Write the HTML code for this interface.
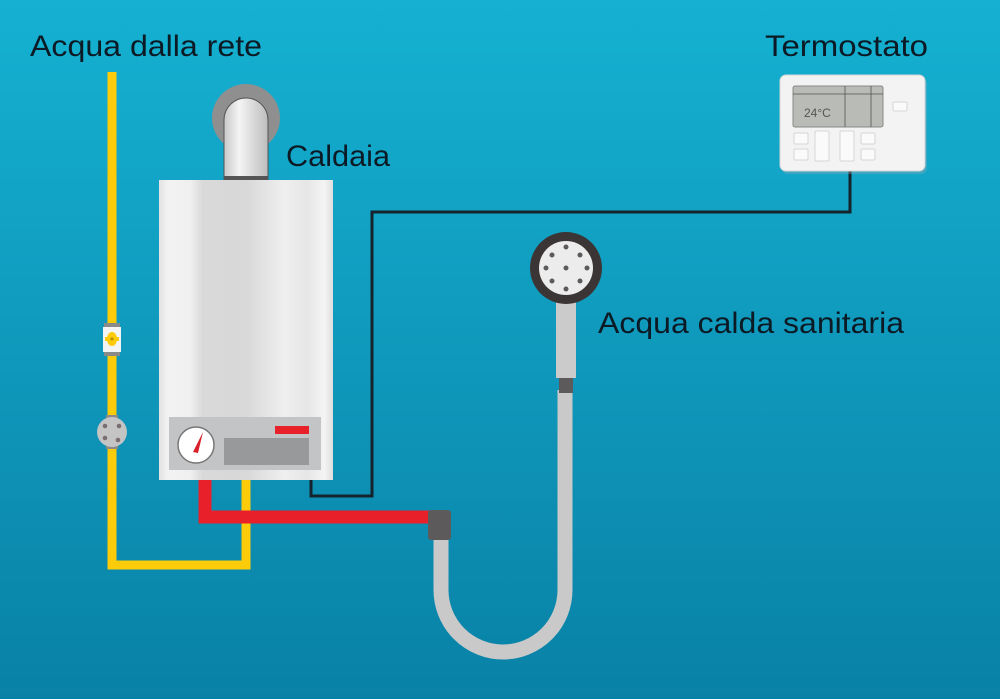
<!DOCTYPE html>
<html><head><meta charset="utf-8"><style>
html,body{margin:0;padding:0;width:1000px;height:699px;overflow:hidden}
svg{display:block}
text{font-family:"Liberation Sans",sans-serif;fill:#0b1a24}
</style></head><body>
<svg width="1000" height="699" viewBox="0 0 1000 699" xmlns="http://www.w3.org/2000/svg">
<defs>
<linearGradient id="bg" x1="0" y1="0" x2="0" y2="1">
<stop offset="0" stop-color="#15b1d2"/><stop offset="1" stop-color="#0981a6"/></linearGradient>
<linearGradient id="body" x1="0" y1="0" x2="1" y2="0">
<stop offset="0" stop-color="#e2e2e2"/><stop offset="0.05" stop-color="#f2f2f2"/><stop offset="0.18" stop-color="#f0f0f0"/><stop offset="0.25" stop-color="#d9d9d9"/><stop offset="0.5" stop-color="#d8d8d8"/><stop offset="0.72" stop-color="#efefef"/><stop offset="0.85" stop-color="#e6e6e6"/><stop offset="0.95" stop-color="#f4f4f4"/><stop offset="1" stop-color="#dedede"/></linearGradient>
<linearGradient id="flue" x1="0" y1="0" x2="1" y2="0">
<stop offset="0" stop-color="#c8c8c8"/><stop offset="0.35" stop-color="#f4f4f4"/><stop offset="1" stop-color="#bdbdbd"/></linearGradient>
</defs>
<rect width="1000" height="699" fill="url(#bg)"/>

<!-- yellow pipe -->
<path d="M112 72 V565 H246 V478" fill="none" stroke="#fccb0a" stroke-width="9"/>
<rect x="104" y="323" width="16" height="4" fill="#8a8a8a"/>
<rect x="104" y="352" width="16" height="4" fill="#8a8a8a"/>
<rect x="103" y="327" width="18" height="25" fill="#f4f4f4"/>
<ellipse cx="112" cy="339" rx="5" ry="7" fill="#fccb0a"/>
<rect x="105" y="337" width="14" height="4" fill="#fccb0a"/>
<circle cx="112" cy="339" r="1.5" fill="#b08a00"/>
<rect x="106" y="415" width="12" height="34" fill="#8a8a8a"/>
<circle cx="112" cy="432" r="15" fill="#c4c4c4"/>
<circle cx="105" cy="426" r="2.3" fill="#7a6e6e"/><circle cx="119" cy="426" r="2.3" fill="#7a6e6e"/>
<circle cx="105" cy="438" r="2.3" fill="#7a6e6e"/><circle cx="118" cy="440" r="2.3" fill="#7a6e6e"/>

<!-- flue -->
<circle cx="246" cy="118" r="34" fill="#8f8f8f"/>
<path d="M224 180 V120 a22 22 0 0 1 44 0 V180 Z" fill="url(#flue)" stroke="#555" stroke-width="1"/>
<rect x="224" y="176" width="44" height="4" fill="#555"/>

<!-- red pipe -->
<path d="M205 480 V517 H432" fill="none" stroke="#e8202a" stroke-width="13"/>

<!-- wire -->
<path d="M311 478 V496 H372 V212 H850 V170" fill="none" stroke="#14232c" stroke-width="3"/>

<!-- boiler -->
<rect x="159" y="180" width="174" height="300" fill="url(#body)"/>
<rect x="169" y="417" width="152" height="53" fill="#c3c4c6"/>
<rect x="224" y="438" width="85" height="27" fill="#98999b"/>
<rect x="275" y="426" width="34" height="8" fill="#e8202a"/>
<circle cx="196" cy="445" r="18" fill="#fff" stroke="#777" stroke-width="1.5"/>
<path d="M193 452 L203 432 L198 453 Z" fill="#d8202a"/>

<!-- hose -->
<path d="M441 538 V590 a62 62 0 0 0 124 0 V390" fill="none" stroke="#c9c9c9" stroke-width="15"/>
<rect x="428" y="510" width="23" height="30" rx="3" fill="#5c5a5b"/>
<rect x="559" y="377" width="14" height="16" fill="#5c5a5b"/>
<rect x="556" y="298" width="20" height="80" fill="#cbcbcb"/>
<circle cx="566" cy="268" r="36" fill="#3b3536"/>
<circle cx="566" cy="268" r="27" fill="#ececec"/>
<g fill="#5c5a5b">
<circle cx="566" cy="247" r="2.5"/><circle cx="566" cy="268" r="2.5"/><circle cx="566" cy="289" r="2.5"/>
<circle cx="546" cy="268" r="2.5"/><circle cx="587" cy="268" r="2.5"/>
<circle cx="552" cy="255" r="2.5"/><circle cx="580" cy="255" r="2.5"/>
<circle cx="552" cy="281" r="2.5"/><circle cx="580" cy="281" r="2.5"/>
</g>

<!-- thermostat -->
<rect x="782" y="78" width="145" height="96" rx="6" fill="#9ab" opacity="0.35"/>
<rect x="780" y="75" width="145" height="96" rx="6" fill="#f3f3f3" stroke="#d6d6d6"/>
<rect x="793" y="86" width="90" height="41" rx="2" fill="#b9bcb6" stroke="#888"/>
<line x1="793" y1="94" x2="883" y2="94" stroke="#555" stroke-width="0.8"/>
<line x1="845" y1="86" x2="845" y2="127" stroke="#555" stroke-width="0.8"/>
<line x1="871" y1="86" x2="871" y2="127" stroke="#555" stroke-width="0.8"/>
<text x="804" y="117" font-size="12" style="fill:#555">24°C</text>
<g fill="#fafafa" stroke="#ccc" stroke-width="0.8">
<rect x="893" y="102" width="14" height="9" rx="1"/>
<rect x="794" y="133" width="14" height="11" rx="1"/><rect x="794" y="149" width="14" height="11" rx="1"/>
<rect x="815" y="131" width="14" height="30" rx="1"/><rect x="840" y="131" width="14" height="30" rx="1"/>
<rect x="861" y="133" width="14" height="11" rx="1"/><rect x="861" y="149" width="14" height="11" rx="1"/>
</g>

<!-- labels -->
<text x="30" y="56" font-size="30" textLength="232" lengthAdjust="spacingAndGlyphs">Acqua dalla rete</text>
<text x="765" y="56" font-size="30" textLength="163" lengthAdjust="spacingAndGlyphs">Termostato</text>
<text x="286" y="166" font-size="30" textLength="104" lengthAdjust="spacingAndGlyphs">Caldaia</text>
<text x="598" y="333" font-size="30" textLength="306" lengthAdjust="spacingAndGlyphs">Acqua calda sanitaria</text>
</svg>
</body></html>
